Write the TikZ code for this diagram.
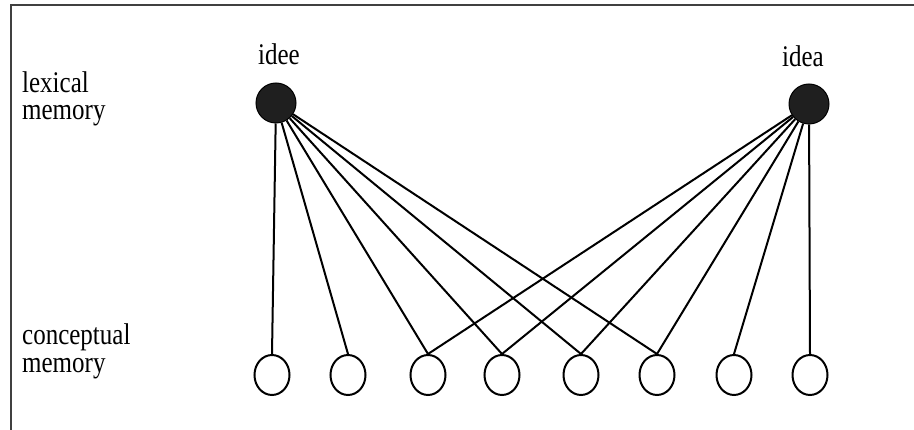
\documentclass[tikz,border=0pt]{standalone}
\usepackage{fontspec}
\setmainfont{Liberation Serif}
\usetikzlibrary{shapes.geometric}

\tikzset{
  lexnode/.style={circle, draw=black, fill=black!88, minimum size=40pt, inner sep=0pt, line width=1pt},
  concnode/.style={ellipse, draw=black, minimum width=35pt, minimum height=40pt, inner sep=0pt, line width=2pt},
  link/.style={line width=2pt},
  lbl/.style={font=\fontsize{25}{30}\selectfont, inner sep=0pt}
}
\newcommand{\tallword}[1]{\scalebox{1}[1.2]{#1}}

\begin{document}
\begin{tikzpicture}[x=1pt,y=-1pt]
	%%%%% START %%%%%
	\useasboundingbox (0,0) rectangle (914,430);
	\draw[line width=2.4pt, color=black!75] (11,430) -- (11,5) -- (914,5);
	
	% side labels
	\node[lbl, anchor=base west] (lexA) at (22,93) {\tallword{lexical}};
	\node[lbl, anchor=base west] (lexB) at (22,120) {\tallword{memory}};
	\node[lbl, anchor=base west] (concA) at (22,345) {\tallword{conceptual}};
	\node[lbl, anchor=base west] (concB) at (22,373) {\tallword{memory}};
	
	% words
	\node[lexnode] (idee) at (276,103) {};
	\node[lexnode] (idea) at (809,104) {};
	\node[lbl, anchor=base] (ideeword) at (279,65) {\tallword{idee}};
	\node[lbl, anchor=base] (ideaword) at (803,67) {\tallword{idea}};
	
	% concepts
	\node[concnode] (c1) at (272,375) {};
	\node[concnode] (c2) at (348,375) {};
	\node[concnode] (c3) at (428,375) {};
	\node[concnode] (c4) at (502,375) {};
	\node[concnode] (c5) at (581,375) {};
	\node[concnode] (c6) at (657,375) {};
	\node[concnode] (c7) at (734,375) {};
	\node[concnode] (c8) at (810,375) {};
	
	\foreach \i in {1,...,6} \draw[link] (idee) -- (c\i.north);
	\foreach \i in {3,...,8} \draw[link] (idea) -- (c\i.north);
	%%%%% END %%%%%
\end{tikzpicture}
\end{document}
